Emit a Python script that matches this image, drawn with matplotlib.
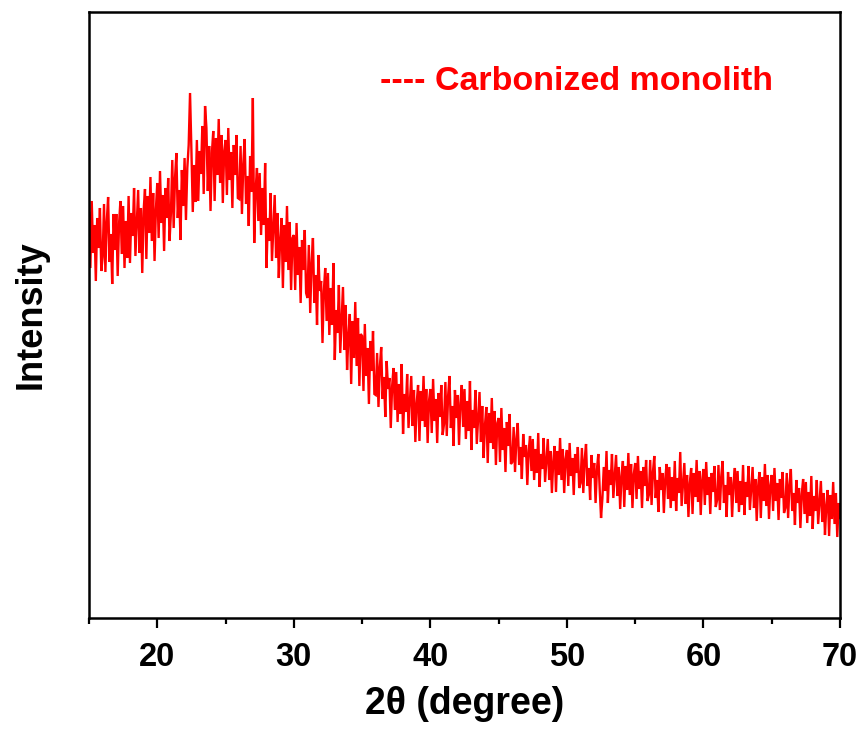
import numpy as np
import matplotlib
matplotlib.use("Agg")
import matplotlib.pyplot as plt

# 2theta grid start/step (degrees)
two_theta_start = 15.0
two_theta_step = 0.1

# Intensity (a.u.), one row per degree
intensity = [
    405, 350, 417, 365, 393, 337, 400, 370, 410, 347,   # 15
    361, 414, 346, 396, 421, 356, 384, 334, 404, 368,   # 16
    404, 342, 394, 417, 364, 412, 350, 397, 360, 422,   # 17
    355, 405, 382, 430, 362, 395, 428, 365, 410, 345,   # 18
    407, 429, 359, 422, 385, 441, 377, 425, 357, 409,   # 19
    435, 380, 447, 395, 423, 367, 430, 400, 440, 377,   # 20
    405, 458, 390, 440, 465, 400, 428, 378, 448, 412,   # 21
    460, 398, 450, 473, 525, 468, 406, 453, 416, 478,   # 22
    417, 467, 444, 492, 424, 512, 490, 427, 472, 407,   # 23
    465, 487, 417, 480, 443, 499, 435, 483, 415, 467,   # 24
    478, 423, 490, 438, 466, 410, 473, 443, 483, 420,   # 25
    419, 472, 404, 454, 479, 414, 442, 392, 462, 426,   # 26
    520, 375, 427, 450, 397, 445, 383, 430, 393, 455,   # 27
    350, 400, 377, 425, 357, 390, 423, 360, 405, 340,   # 28
    378, 400, 330, 393, 356, 412, 348, 396, 328, 380,   # 29
    383, 328, 395, 343, 371, 315, 378, 348, 388, 325,   # 30
    320, 373, 305, 355, 380, 315, 343, 293, 363, 327,   # 31
    337, 275, 327, 350, 297, 345, 283, 330, 293, 355,   # 32
    258, 308, 285, 333, 265, 298, 331, 268, 313, 248,   # 33
    282, 304, 234, 297, 260, 316, 252, 300, 232, 284,   # 34
    282, 227, 294, 242, 270, 214, 277, 247, 287, 224,   # 35
    223, 265, 211, 251, 271, 219, 241, 201, 257, 229,   # 36
    240, 190, 232, 250, 208, 246, 196, 234, 204, 254,   # 37
    184, 224, 206, 244, 190, 216, 242, 192, 228, 176,   # 38
    215, 233, 177, 227, 197, 242, 191, 229, 175, 217,   # 39
    229, 185, 239, 197, 219, 175, 225, 201, 233, 183,   # 40
    194, 236, 182, 222, 242, 190, 212, 172, 228, 200,   # 41
    223, 173, 215, 233, 191, 229, 179, 217, 187, 237,   # 42
    168, 208, 190, 228, 174, 200, 226, 176, 212, 160,   # 43
    193, 211, 155, 205, 175, 220, 169, 207, 153, 195,   # 44
    200, 156, 210, 168, 190, 146, 196, 172, 204, 154,   # 45
    156, 191, 146, 179, 195, 153, 171, 139, 184, 161,   # 46
    173, 133, 167, 182, 147, 179, 138, 169, 145, 185,   # 47
    131, 164, 149, 180, 136, 157, 179, 138, 167, 125,   # 48
    157, 172, 126, 167, 143, 180, 138, 169, 125, 159,   # 49
    168, 132, 175, 142, 160, 123, 164, 145, 171, 130,   # 50
    135, 170, 125, 158, 174, 132, 150, 118, 163, 140,   # 51
    155, 115, 149, 164, 129, 100, 120, 151, 127, 167,   # 52
    115, 148, 133, 164, 120, 141, 163, 122, 151, 109,   # 53
    142, 157, 111, 152, 128, 165, 123, 154, 110, 144,   # 54
    155, 119, 162, 129, 147, 110, 151, 132, 158, 117,   # 55
    123, 158, 113, 146, 162, 120, 138, 106, 151, 128,   # 56
    145, 105, 139, 154, 119, 151, 110, 141, 117, 157,   # 57
    107, 140, 125, 166, 112, 133, 155, 114, 143, 101,   # 58
    135, 150, 104, 145, 121, 158, 116, 147, 103, 137,   # 59
    149, 113, 156, 123, 141, 104, 145, 126, 152, 111,   # 60
    118, 153, 108, 141, 157, 115, 133, 101, 146, 123,   # 61
    141, 101, 135, 150, 115, 147, 106, 137, 113, 153,   # 62
    103, 136, 121, 152, 108, 129, 151, 110, 139, 97,    # 63
    131, 146, 100, 141, 117, 154, 112, 143, 99, 133,    # 64
    143, 107, 150, 117, 135, 98, 139, 120, 146, 105,    # 65
    110, 145, 100, 133, 149, 107, 125, 93, 138, 115,    # 66
    130, 90, 124, 139, 104, 136, 95, 126, 102, 142,     # 67
    89, 122, 107, 138, 94, 115, 137, 96, 125, 83,       # 68
    113, 128, 82, 123, 99, 136, 94, 125, 81, 115,       # 69
    100,                                                # 70
]

x_ticks = [20, 30, 40, 50, 60, 70]
legend_text = "---- Carbonized monolith"

two_theta = two_theta_start + two_theta_step * np.arange(len(intensity))

plt.rcParams['font.family'] = ['Liberation Sans', 'DejaVu Sans']
plt.rcParams['font.weight'] = 'bold'

fig = plt.figure(figsize=(8.64, 7.29), dpi=100)
ax = fig.add_axes([89/864, 1 - 618/729, (840-89)/864, (618-12)/729])

ax.plot(two_theta, intensity, color='#ff0000', lw=1.7, solid_joinstyle='miter')

ax.set_xlim(15, 70)
ax.set_ylim(0, 606)
ax.set_xticks(x_ticks)
ax.set_xticks(np.arange(15, 71, 5), minor=True)
ax.set_yticks([])
ax.tick_params(axis='x', which='major', direction='out', length=7, width=1.6,
               labelsize=23.5, pad=10)
ax.tick_params(axis='x', which='minor', direction='out', length=4, width=1.6)
for lab in ax.get_xticklabels():
    lab.set_fontweight('bold')
for s in ax.spines.values():
    s.set_linewidth(1.8)

ax.set_xlabel("2θ (degree)", fontsize=27, fontweight='bold', labelpad=10)
ax.set_ylabel("Intensity", fontsize=26, fontweight='bold', labelpad=29)

ax.text(0.388, 0.885, legend_text, transform=ax.transAxes, color='#ff0000',
        fontsize=24.5, fontweight='bold', ha='left', va='center')

fig.savefig("out.png", dpi=100)
